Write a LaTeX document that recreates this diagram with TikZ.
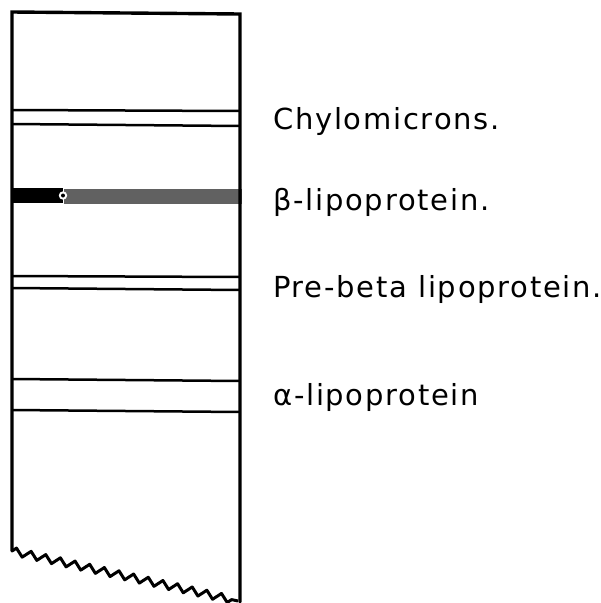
\documentclass[tikz,border=0pt]{standalone}
\usepackage{fontspec}
\setmainfont{DejaVu Sans}
\usetikzlibrary{decorations.pathmorphing}
\tikzset{
  frame/.style={line width=3.4pt, line cap=round},
  bandline/.style={line width=2.5pt},
  label/.style={anchor=base west, inner sep=0pt, font=\fontsize{29}{33}\selectfont\addfontfeature{LetterSpace=6}}
}
\begin{document}
\begin{tikzpicture}[x=1pt,y=-1pt]
\useasboundingbox (0,0) rectangle (601,603);
% band lines
\draw[bandline] (12,110) -- (240,111);
\draw[bandline] (12,124) -- (240,126);
\draw[bandline] (12,276) -- (240,277);
\draw[bandline] (12,288) -- (240,290);
\draw[bandline] (12,379) -- (240,381);
\draw[bandline] (12,410) -- (240,412);
% beta band
\fill[black!62] (64,189) rectangle (242,204);
\fill[black] (12,188) rectangle (63,203);
\fill[white] (63,195.5) circle (4.2);
\fill[black] (63,195.5) circle (2);
% frame
\draw[frame] (12,551) -- (12,12) -- (240,14) -- (240,602);
\draw[line width=3pt, line join=round, decorate, decoration={zigzag, segment length=15, amplitude=3.8}] (12,551) -- (238,601);
% labels
\node[label] (chylo) at (273,129) {Chylomicrons.};
\node[label] (beta) at (273,210) {β-lipoprotein.};
\node[label] (prebeta) at (273,297) {Pre-beta lipoprotein.};
\node[label] (alpha) at (273,405) {α-lipoprotein};
\end{tikzpicture}
\end{document}
